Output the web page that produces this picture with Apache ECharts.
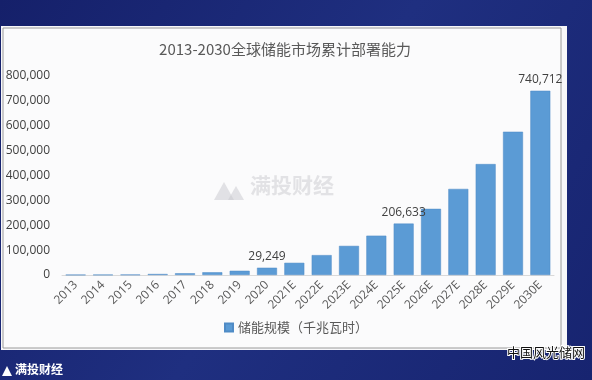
<!DOCTYPE html>
<html><head><meta charset="utf-8">
<script src="https://cdn.jsdelivr.net/npm/echarts@6/dist/echarts.min.js"></script>
<style>html,body{margin:0;padding:0;background:#1a2670;}#c{width:592px;height:380px;}</style>
</head><body><div id="c"></div>
<script>
var categories = ['2013','2014','2015','2016','2017','2018','2019','2020','2021E','2022E','2023E','2024E','2025E','2026E','2027E','2028E','2029E','2030E'];
var values = [700, 1000, 1500, 4000, 7000, 11000, 17000, 29249, 49000, 80000, 117000, 158000, 206633, 266000, 346000, 446000, 576000, 740712];
var labeled = ['2020','2025E','2030E'];
var yTicks = [0,100000,200000,300000,400000,500000,600000,700000,800000];
var title = '2013-2030全球储能市场累计部署能力';
var seriesName = '储能规模（千兆瓦时）';

var chart = echarts.init(document.getElementById('c'));
var font = '"Noto Sans CJK SC", "Open Sans", sans-serif';
chart.setOption({
  animation:false,
  backgroundColor:{type:'linear',x:0,y:0,x2:1,y2:1,colorStops:[{offset:0,color:'#15206a'},{offset:0.5,color:'#1f2f80'},{offset:1,color:'#172470'}]},
  graphic:[
    {type:'rect',shape:{x:1,y:26,width:566,height:324},style:{fill:'#f7f7f9'},z:-10},
    {type:'rect',shape:{x:3,y:28,width:558,height:320},style:{fill:'#fbfbfc',stroke:'#9a9a9a',lineWidth:1},z:-9},
    {type:'text',left:250,top:175,style:{text:'满投财经',fill:'rgba(205,205,210,0.55)',font:'bold 21px '+font},z:-5},
    {type:'polygon',shape:{points:[[214,200],[224,182],[234,200]]},style:{fill:'rgba(200,200,205,0.5)'},z:-5},
    {type:'polygon',shape:{points:[[228,200],[236,186],[244,200]]},style:{fill:'rgba(200,200,205,0.5)'},z:-5},
    {type:'text',left:506,top:345,style:{text:'中国风光储网',fill:'#111',stroke:'#fff',lineWidth:2,font:'13px '+font},z:10},
    {type:'polygon',shape:{points:[[2,376],[7,366],[12,376]]},style:{fill:'#fff'}},
    {type:'text',left:15,top:363,style:{text:'满投财经',fill:'#fff',font:'bold 12px '+font}}
  ],
  title:{text:title,left:280,textAlign:'center',top:37,textStyle:{fontFamily:font,fontSize:15,fontWeight:'normal',color:'#595959'}},
  legend:{bottom:41,left:'center',itemWidth:8,itemHeight:8,icon:'rect',itemGap:4,textStyle:{fontFamily:font,fontSize:13,color:'#595959'},data:[seriesName]},
  grid:{left:62,right:38,top:76,bottom:105},
  xAxis:{type:'category',data:categories,axisLine:{lineStyle:{color:'#d9d9d9'}},axisTick:{show:false},
    axisLabel:{rotate:45,interval:0,color:'#595959',fontSize:12,fontFamily:'"Open Sans", sans-serif',margin:8}},
  yAxis:{type:'value',min:0,max:800000,interval:100000,axisLine:{show:false},axisTick:{show:false},splitLine:{show:false},
    axisLabel:{color:'#404040',fontSize:12,fontFamily:'"Open Sans", sans-serif',margin:12,formatter:function(v){return v.toLocaleString('en-US');}}},
  series:[{name:seriesName,type:'bar',barCategoryGap:'27%',
    itemStyle:{color:'#5b9bd5',borderColor:'#4f8bc6',borderWidth:0.5},
    label:{show:true,position:'top',color:'#404040',fontSize:12,fontFamily:'"Open Sans", sans-serif',
      formatter:function(p){return labeled.indexOf(p.name)>=0?p.value.toLocaleString('en-US'):'';}},
    data:values}]
});
</script></body></html>
